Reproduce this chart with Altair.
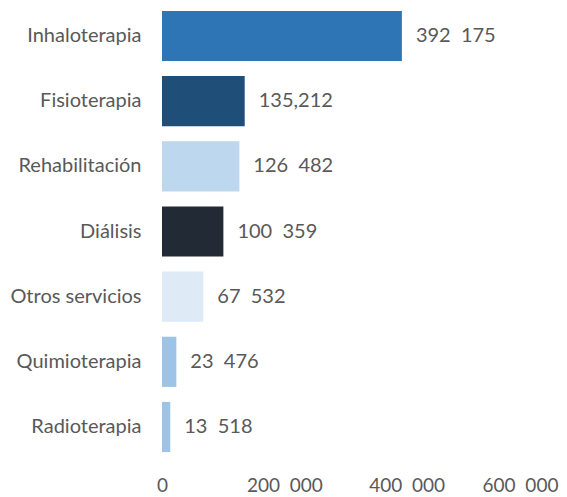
import altair as alt
import pandas as pd

categories = ["Inhaloterapia", "Fisioterapia", "Rehabilitación", "Diálisis",
              "Otros servicios", "Quimioterapia", "Radioterapia"]
values = [392175, 135212, 126482, 100359, 67532, 23476, 13518]
value_labels = ["392\u00a0\u00a0175", "135,212", "126\u00a0\u00a0482", "100\u00a0\u00a0359",
                "67\u00a0\u00a0532", "23\u00a0\u00a0476", "13\u00a0\u00a0518"]
colors = ["#2E75B6", "#1F4E79", "#BDD7EE", "#222A35", "#DEEBF7", "#9DC3E6", "#9DC3E6"]
tick_values = [0, 200000, 400000, 600000]
tick_labels = ["0", "200\u00a0\u00a0000", "400\u00a0\u00a0000", "600\u00a0\u00a0000"]

df = pd.DataFrame({"cat": categories, "val": values, "lab": value_labels, "col": colors})

FONT = "Lato"
GRAY = "#595959"
FS = 20

label_expr = " : ".join(
    [f"datum.value == {v} ? '{l}'" for v, l in zip(tick_values, tick_labels)]
) + " : ''"

y = alt.Y("cat:N", sort=categories, title=None,
          scale=alt.Scale(paddingInner=0.23, paddingOuter=0.045),
          axis=alt.Axis(domain=False, ticks=False, labelPadding=21, labelFontSize=FS,
                        labelColor=GRAY, labelFont=FONT))
x = alt.X("val:Q", title=None,
          scale=alt.Scale(domain=[0, 600000], nice=False),
          axis=alt.Axis(values=tick_values, labelExpr=label_expr, domain=False, ticks=False,
                        grid=False, labelPadding=21, labelFontSize=19, labelColor=GRAY,
                        labelFont=FONT, labelFlush=False, labelOverlap=False,
                        labelOffset={"condition": {"test": "datum.value == 600000", "value": -9},
                                     "value": 0}))

bars = alt.Chart(df).mark_bar().encode(
    x=x, y=y, color=alt.Color("col:N", scale=None)
)
text = alt.Chart(df).mark_text(align="left", baseline="middle", dx=14, fontSize=FS,
                               font=FONT, color=GRAY).encode(
    x="val:Q", y=alt.Y("cat:N", sort=categories), text="lab:N"
)

chart = (bars + text).properties(
    width=367, height=447,
    autosize=alt.AutoSizeParams(type="none"),
    padding={"left": 154, "top": 0, "right": 30, "bottom": 40},
).configure_view(stroke=None)

chart.save("out.html", embed_options={"renderer": "svg", "actions": False})
